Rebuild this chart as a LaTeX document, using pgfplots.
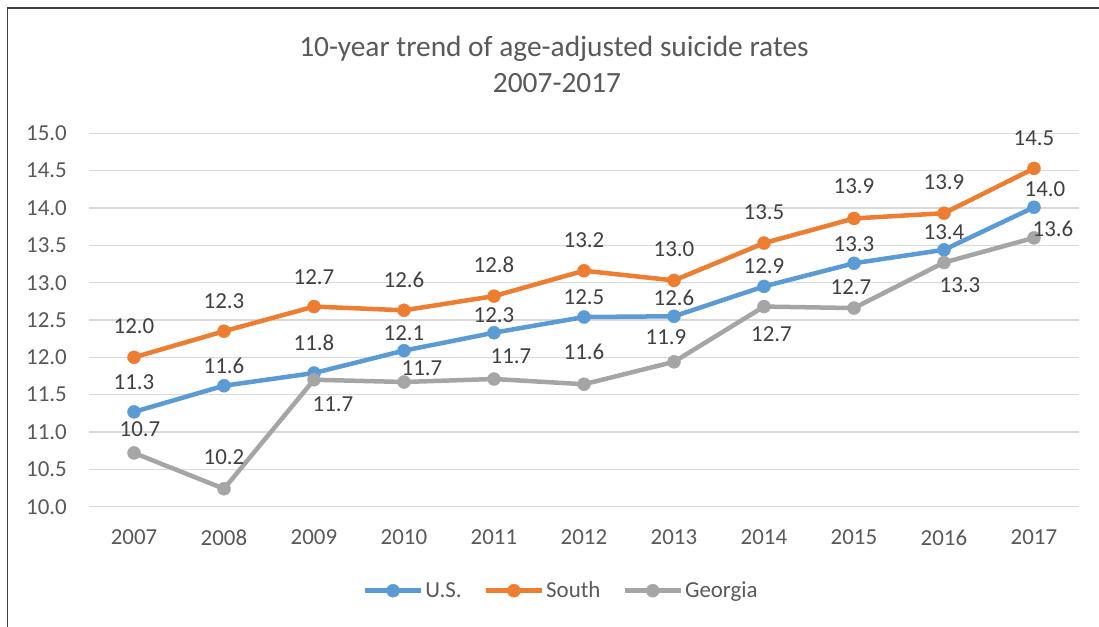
\documentclass[border=0pt]{standalone}
\usepackage{pgfplots}
\pgfplotsset{compat=1.18}
\usepackage{pgfplotstable}
\usepackage{fontspec}
\setmainfont{Carlito}

\definecolor{usblue}{HTML}{5B9BD5}
\definecolor{southorange}{HTML}{ED7D31}
\definecolor{gagray}{HTML}{A5A5A5}
\definecolor{gridgray}{HTML}{D9D9D9}
\definecolor{txtgray}{HTML}{595959}
\definecolor{lblgray}{HTML}{404040}

% year, value, label text, label offset (dx, dy) in px
\pgfplotstableread{
year val   lab  dx   dy
2007 11.27 11.3 0    30
2008 11.62 11.6 0    20
2009 11.79 11.8 0    30
2010 12.09 12.1 0    17
2011 12.33 12.3 0    17.5
2012 12.54 12.5 0    19.5
2013 12.55 12.6 0    18.5
2014 12.95 12.9 0    20
2015 13.26 13.3 0    19.5
2016 13.44 13.4 0    18
2017 14.01 14.0 11   18
}\us

\pgfplotstableread{
year val   lab  dx   dy
2007 12.00 12.0 0    31.5
2008 12.35 12.3 0    30
2009 12.68 12.7 0    29
2010 12.63 12.6 0    30
2011 12.82 12.8 0    31
2012 13.16 13.2 0    31
2013 13.03 13.0 0    31
2014 13.53 13.5 0    30.5
2015 13.86 13.9 0    32
2016 13.93 13.9 0    31
2017 14.53 14.5 0    30.5
}\south

\pgfplotstableread{
year val   lab  dx   dy
2007 10.72 10.7 6    23.5
2008 10.24 10.2 0    31.5
2009 11.70 11.7 19   -24.5
2010 11.67 11.7 18   13.5
2011 11.71 11.7 17   22.5
2012 11.64 11.6 0    32.5
2013 11.94 11.9 -8   25
2014 12.68 12.7 7.5  -28
2015 12.66 12.7 -3   20.5
2016 13.27 13.3 16   -22.5
2017 13.60 13.6 19   9.5
}\georgia

\pgfplotsset{
  series/.style={#1, line width=4.5bp, mark=*, mark size=6.5bp,
    mark options={line width=0.4bp}},
  lbl/.style={
    point meta=explicit symbolic,
    nodes near coords,
    visualization depends on={\thisrow{dx} \as \lx},
    visualization depends on={\thisrow{dy} \as \ly},
    every node near coord/.append style={anchor=center, inner sep=0pt,
      xshift={\lx*1bp}, yshift={\ly*1bp}, font=\fontsize{23}{27}\selectfont, text=lblgray}},
}

\begin{document}
\begin{tikzpicture}
  \useasboundingbox (0bp,0bp) rectangle (1099bp,-627bp);
  \clip (0bp,0bp) rectangle (1099bp,-627bp);
  \fill[white] (0bp,0bp) rectangle (1099bp,-627bp);
  \draw[lblgray, line width=1.6bp] (7.5bp,-8bp) rectangle (1130bp,-660bp);

  \node[anchor=base, font=\fontsize{29.5}{34}\selectfont, text=txtgray] at (554bp,-56bp)
    {10-year trend of age-adjusted suicide rates};
  \node[anchor=base, font=\fontsize{29.5}{34}\selectfont, text=txtgray] at (557bp,-92bp)
    {2007-2017};

  \begin{axis}[
    at={(89bp,-506.7bp)}, anchor=south west,
    scale only axis,
    width=990bp, height=373.4bp,
    xmin=2006.5, xmax=2017.5,
    ymin=10, ymax=15,
    xtick={2007,...,2017},
    ytick={10,10.5,...,15},
    /pgf/number format/assume math mode=true,
    xticklabel style={/pgf/number format/1000 sep={}, font=\fontsize{23}{27}\selectfont,
      text=txtgray, inner sep=0pt, anchor=north, yshift=-23bp},
    yticklabel style={/pgf/number format/.cd, fixed, fixed zerofill, precision=1,
      /tikz/.cd, font=\fontsize{23}{27}\selectfont, text=txtgray, inner sep=0pt,
      anchor=east, xshift=-22bp},
    axis line style={draw=none},
    tick style={draw=none},
    ymajorgrids,
    major grid style={line width=1.2bp, gridgray},
    clip=false,
    legend columns=3,
    legend style={at={(0.477,0)}, yshift=-84bp, anchor=center, draw=none, fill=none,
      font=\fontsize{23}{27}\selectfont, text=txtgray,
      nodes={inner sep=2bp},
      /tikz/every even column/.append style={column sep=20bp}},
    legend image code/.code={%
      \draw[mark repeat=2, mark phase=2, #1] plot coordinates {(0bp,0bp) (28bp,0bp) (56bp,0bp)};},
  ]
    \addlegendimage{series=usblue}
    \addlegendentry{U.S.}
    \addlegendimage{series=southorange}
    \addlegendentry{South}
    \addlegendimage{series=gagray}
    \addlegendentry{Georgia}

    \addplot[series=usblue, lbl, forget plot] table[x=year, y=val, meta=lab] {\us};
    \addplot[series=southorange, lbl, forget plot] table[x=year, y=val, meta=lab] {\south};
    \addplot[series=gagray, lbl, forget plot] table[x=year, y=val, meta=lab] {\georgia};
  \end{axis}
\end{tikzpicture}
\end{document}
